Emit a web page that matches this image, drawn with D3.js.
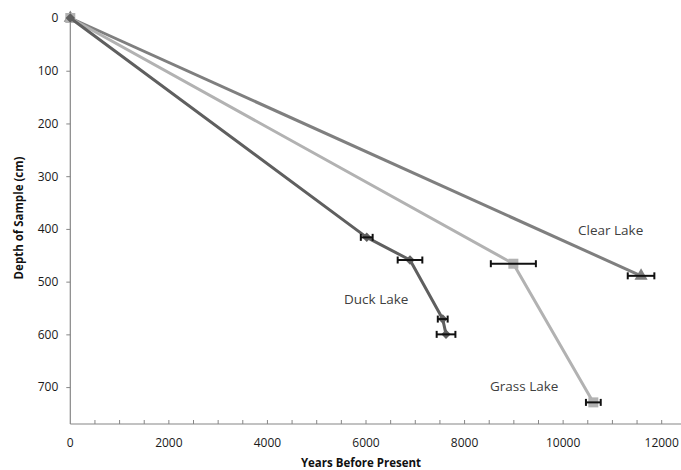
<!DOCTYPE html>
<html>
<head>
<meta charset="utf-8">
<script src="https://cdn.jsdelivr.net/npm/d3@7"></script>
<style>
  body{ margin:0; background:#fff; }
  text{ font-family:"Open Sans", "Liberation Sans", sans-serif; }
</style>
</head>
<body>
<svg id="chart" width="681" height="470"></svg>
<script>
// Years before present / depth (cm) / dating error (years)
const duckYears  = [0, 6015, 6893, 7557, 7624];
const duckDepth  = [0, 416, 459, 571, 600];
const duckErr    = [0, 120, 250, 100, 190];

const grassYears = [0, 8990, 10613];
const grassDepth = [0, 466, 729];
const grassErr   = [0, 457, 150];

const clearYears = [0, 11581];
const clearDepth = [0, 489];
const clearErr   = [0, 270];

const xTicks = [0, 2000, 4000, 6000, 8000, 10000, 12000];
const yTicks = [0, 100, 200, 300, 400, 500, 600, 700];
const lakeNames = ["Clear Lake", "Duck Lake", "Grass Lake"];

let svg = d3.select("#chart");

let x = d3.scaleLinear().domain([0, 12000]).range([70.3, 661.7]);
let y = d3.scaleLinear().domain([0, 770]).range([18, 424]);

// x axis - ticks point up, minor ticks every 500
let xg = svg.append("g").attr("transform", "translate(0,424)");
xg.append("line")
  .attr("x1", x(0)).attr("x2", 681)
  .attr("stroke", "#868686").attr("stroke-width", 1.2);
xg.selectAll(".tk")
  .data(d3.range(500, 12501, 500))
  .join("line")
    .attr("x1", d => x(d)).attr("x2", d => x(d))
    .attr("y1", 0).attr("y2", -4)
    .attr("stroke", "#868686");
xg.selectAll(".lbl")
  .data(xTicks)
  .join("text")
    .attr("x", d => x(d)).attr("y", 23)
    .attr("text-anchor", "middle")
    .attr("font-size", 12).attr("fill", "#1a1a1a")
    .text(d => d);

// y axis (reversed: depth down)
let yAxis = d3.axisLeft(y).tickValues(yTicks).tickSize(4).tickPadding(8);
let yg = svg.append("g").attr("transform", "translate(70.3,0)").call(yAxis);
yg.select(".domain").attr("stroke", "#868686").attr("stroke-width", 1.2)
  .attr("d", "M0,15V424");
yg.selectAll(".tick line").attr("stroke", "#868686");
yg.selectAll(".tick text").attr("font-size", 12).attr("fill", "#1a1a1a")
  .attr("font-family", "Open Sans");

// axis titles
svg.append("text")
  .attr("x", 361).attr("y", 467)
  .attr("text-anchor", "middle")
  .attr("font-size", 11.5).attr("font-weight", "bold").attr("fill", "#111")
  .text("Years Before Present");
svg.append("text")
  .attr("transform", "translate(23,218) rotate(-90)")
  .attr("text-anchor", "middle")
  .attr("font-size", 11.5).attr("font-weight", "bold").attr("fill", "#111")
  .text("Depth of Sample (cm)");

function series(years, depth, err, color, symbol, size, rot){
  let pts = years.map((v,i) => ({yr:v, dp:depth[i], e:err[i]}));
  let line = d3.line().x(d => x(d.yr)).y(d => y(d.dp));
  let g = svg.append("g");
  g.append("path")
    .attr("d", line(pts))
    .attr("fill", "none").attr("stroke", color)
    .attr("stroke-width", 3).attr("stroke-linejoin", "round");
  g.selectAll(".m")
    .data(pts)
    .join("path")
      .attr("transform", d => `translate(${x(d.yr)},${y(d.dp)}) rotate(${rot})`)
      .attr("d", d3.symbol().type(symbol).size(size))
      .attr("fill", color);
  // error bars
  let eb = g.selectAll(".eb").data(pts.filter(d => d.e > 0)).join("g")
    .attr("stroke", "#111").attr("stroke-width", 2);
  eb.append("line")
    .attr("x1", d => x(d.yr - d.e)).attr("x2", d => x(d.yr + d.e))
    .attr("y1", d => y(d.dp)).attr("y2", d => y(d.dp));
  eb.append("line")
    .attr("x1", d => x(d.yr - d.e)).attr("x2", d => x(d.yr - d.e))
    .attr("y1", d => y(d.dp) - 3.5).attr("y2", d => y(d.dp) + 3.5);
  eb.append("line")
    .attr("x1", d => x(d.yr + d.e)).attr("x2", d => x(d.yr + d.e))
    .attr("y1", d => y(d.dp) - 3.5).attr("y2", d => y(d.dp) + 3.5);
} // series

series(clearYears, clearDepth, clearErr, "#7f7f7f", d3.symbolTriangle, 75, 0);
series(grassYears, grassDepth, grassErr, "#b2b2b2", d3.symbolSquare, 100, 0);
series(duckYears, duckDepth, duckErr, "#5f5f5f", d3.symbolSquare, 45, 45);

// lake labels
const labelPos = [[578, 235], [344, 304], [490, 391]];
svg.selectAll(".lake")
  .data(lakeNames)
  .join("text")
    .attr("x", (d,i) => labelPos[i][0]).attr("y", (d,i) => labelPos[i][1])
    .attr("font-size", 13.5).attr("fill", "#404040")
    .text(d => d);
</script>
</body>
</html>
